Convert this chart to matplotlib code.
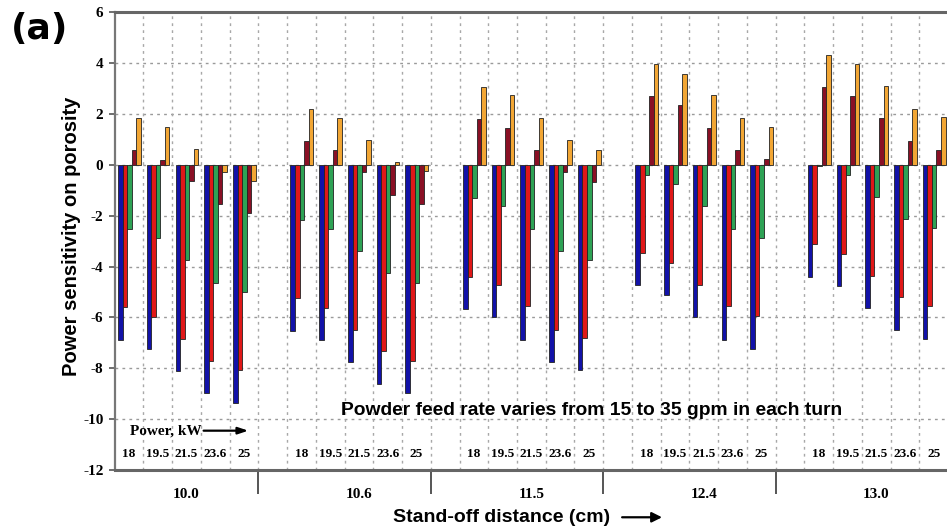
import matplotlib
matplotlib.use("Agg")
import matplotlib.pyplot as plt
import numpy as np

# Stand-off distance groups, laser power levels and powder feed rates
distances = ["10.0", "10.6", "11.5", "12.4", "13.0"]
powers = ["18", "19.5", "21.5", "23.6", "25"]
feed_rates = [15, 20, 25, 30, 35]

# Power sensitivity on porosity, ordered distance-major, then power
feed_15 = [-6.89, -7.25, -8.10, -8.98, -9.35,
           -6.53, -6.89, -7.74, -8.62, -8.98,
           -5.65, -6.00, -6.89, -7.75, -8.07,
           -4.74, -5.13, -6.00, -6.87, -7.22,
           -4.39, -4.75, -5.61, -6.48, -6.84]
feed_20 = [-5.59, -5.98, -6.85, -7.70, -8.07,
           -5.23, -5.61, -6.48, -7.32, -7.70,
           -4.39, -4.71, -5.56, -6.48, -6.81,
           -3.47, -3.84, -4.71, -5.56, -5.94,
           -3.13, -3.50, -4.36, -5.20, -5.56]
feed_25 = [-2.52, -2.89, -3.76, -4.65, -5.01,
           -2.15, -2.53, -3.37, -4.26, -4.63,
           -1.31, -1.63, -2.53, -3.37, -3.76,
           -0.39, -0.76, -1.63, -2.51, -2.87,
           -0.04, -0.39, -1.25, -2.13, -2.49]
feed_30 = [0.57, 0.18, -0.63, -1.54, -1.91,
           0.94, 0.57, -0.30, -1.17, -1.54,
           1.79, 1.44, 0.57, -0.30, -0.69,
           2.70, 2.34, 1.46, 0.60, 0.23,
           3.05, 2.69, 1.83, 0.94, 0.60]
feed_35 = [1.83, 1.49, 0.64, -0.27, -0.63,
           2.21, 1.83, 0.97, 0.10, -0.26,
           3.05, 2.73, 1.85, 0.98, 0.59,
           3.97, 3.59, 2.74, 1.85, 1.49,
           4.33, 3.97, 3.11, 2.21, 1.88]

series = [feed_15, feed_20, feed_25, feed_30, feed_35]
colors = ["#1212a8", "#e01818", "#2ea255", "#8a1025", "#f2a634"]

SERIF = ["Liberation Serif", "DejaVu Serif"]
SANS = ["Liberation Sans", "DejaVu Sans"]

fig = plt.figure(figsize=(9.47, 5.30), dpi=100)
ax = fig.add_axes([0.121, 0.113, 0.879, 0.864])

n_pow = len(powers)
cells_per_group = n_pow + 1
bar_w = 0.158
offset = 0.12

# cell index of each (distance, power) pair
cells = np.array([g * cells_per_group + p
                  for g in range(len(distances)) for p in range(n_pow)])

for k, (vals, col) in enumerate(zip(series, colors)):
    ax.bar(cells + offset + k * bar_w, vals, width=bar_w, align="edge",
           color=col, edgecolor="#222222", linewidth=0.6, zorder=3)

ax.set_xlim(0, 28.96)
ax.set_ylim(-12, 6)

# grid: dotted lines at every y tick and every cell boundary
ax.set_yticks(np.arange(-12, 7, 2))
ax.set_yticklabels([str(v) for v in range(-12, 7, 2)],
                   fontfamily=SERIF, fontweight="bold", fontsize=11)
for yv in range(-10, 6, 2):
    ax.axhline(yv, color="#9a9a9a", linestyle=(0, (2, 3)), linewidth=1.0, zorder=1)
for xv in range(1, 29):
    ax.axvline(xv, color="#a8a8a8", linestyle=(0, (2, 3)), linewidth=1.0, zorder=1)

# distance group labels and separator ticks below the axis
group_centers = [g * cells_per_group + n_pow / 2 for g in range(len(distances))]
ax.set_xticks(group_centers)
ax.set_xticklabels(distances, fontfamily=SERIF, fontweight="bold", fontsize=11)
ax.tick_params(axis="x", which="major", length=0, pad=13)
ax.set_xticks([g * cells_per_group + n_pow for g in range(len(distances) - 1)], minor=True)
ax.tick_params(axis="x", which="minor", length=17, width=1.4, color="#555555", direction="out")
ax.tick_params(axis="y", length=4, width=1.2, color="#555555", pad=4)

# power labels within each group
for g in range(len(distances)):
    for p, lab in enumerate(powers):
        ax.text(g * cells_per_group + p + 0.5, -11.35, lab, ha="center", va="center",
                fontfamily=SERIF, fontweight="bold", fontsize=9.5, zorder=4)

ax.text(0.52, -10.45, "Power, kW", ha="left", va="center",
        fontfamily=SERIF, fontweight="bold", fontsize=11, zorder=4)
ax.annotate("", xy=(4.75, -10.45), xytext=(3.0, -10.45),
            arrowprops=dict(arrowstyle="-|>,head_length=0.6,head_width=0.2",
                            color="black", lw=1.6), zorder=4)

ax.text(16.6, -9.65, "Powder feed rate varies from 15 to 35 gpm in each turn",
        ha="center", va="center", fontfamily=SANS, fontweight="bold",
        fontsize=13.9, zorder=4)

# frame
for side in ["top", "bottom"]:
    ax.spines[side].set_linewidth(2.2)
    ax.spines[side].set_color("#666666")
ax.spines["left"].set_linewidth(1.6)
ax.spines["left"].set_color("#777777")
ax.spines["right"].set_visible(False)

fig.text(0.076, 0.555, "Power sensitivity on porosity", rotation=90,
         ha="center", va="center", fontfamily=SANS, fontweight="bold", fontsize=14.5)

fig.text(0.644, 0.024, "Stand-off distance (cm)", ha="right", va="center",
         fontfamily=SANS, fontweight="bold", fontsize=14)
fig.add_artist(matplotlib.patches.FancyArrowPatch(
    (0.654, 0.024), (0.702, 0.024), transform=fig.transFigure,
    arrowstyle="-|>,head_length=6,head_width=3", color="black", lw=1.6))

fig.text(0.012, 0.978, "(a)", ha="left", va="top", fontfamily=["DejaVu Sans"],
         fontweight="bold", fontsize=26)

fig.savefig("out.png", dpi=100)
